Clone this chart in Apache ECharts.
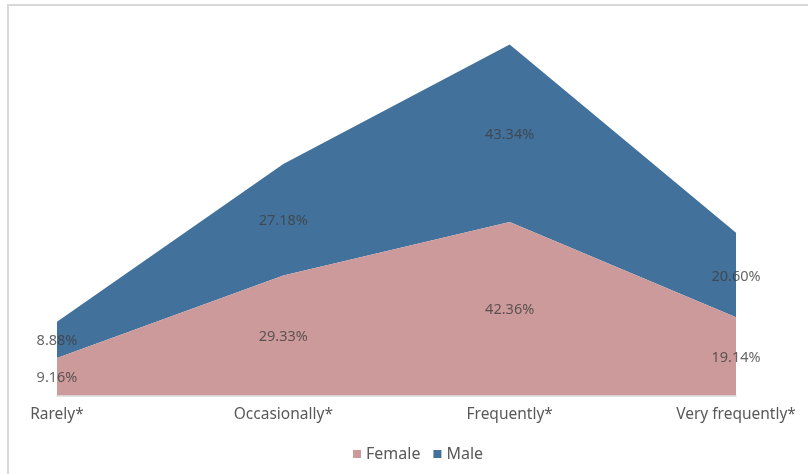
<!DOCTYPE html>
<html>
<head>
<meta charset="utf-8">
<script src="https://cdn.jsdelivr.net/npm/echarts@6/dist/echarts.min.js"></script>
<style>
  html, body { margin: 0; padding: 0; background: #fff; }
  #chart { width: 808px; height: 474px; }
</style>
</head>
<body>
<div id="chart"></div>
<script>
// Frequency categories along the x axis
const categories = ['Rarely*', 'Occasionally*', 'Frequently*', 'Very frequently*'];
// Percentages per group (stacked: Female at the bottom, Male on top)
const female = [9.16, 29.33, 42.36, 19.14];
const male = [8.88, 27.18, 43.34, 20.60];

const FEMALE_COLOR = '#cc9a9a';
const MALE_COLOR = '#42719c';
const FONT = '"Noto Sans", sans-serif';

// Label anchors sit in the middle of each stacked band
const femaleMid = female.map(v => v / 2);
const maleMid = male.map((v, i) => female[i] + v / 2);

const labelStyle = {
  show: true,
  position: 'inside',
  color: '#404040',
  fontSize: 14.5,
  fontFamily: FONT,
  offset: [0, 1.5]
};

const chart = echarts.init(document.getElementById('chart'), null, { renderer: 'canvas' });
chart.setOption({
  animation: false,
  backgroundColor: '#fff',
  graphic: [{
    type: 'polyline',
    shape: { points: [[8, 474], [8, 5], [808, 5]] },
    style: { stroke: '#d9d9d9', lineWidth: 2, fill: null },
    silent: true
  }],
  grid: { left: 57, right: 72, top: 27, bottom: 78.5 },
  legend: {
    top: 441,
    left: 348,
    itemWidth: 8,
    itemHeight: 8,
    itemGap: 13,
    icon: 'rect',
    textStyle: { color: '#595959', fontSize: 16, fontFamily: FONT },
    data: ['Female', 'Male']
  },
  xAxis: {
    type: 'category',
    data: categories,
    boundaryGap: false,
    axisLine: { show: true, lineStyle: { color: '#d9d9d9', width: 1.5 } },
    axisTick: { show: false },
    axisLabel: { color: '#595959', fontSize: 15.5, fontFamily: FONT, margin: 11 },
    splitLine: { show: false }
  },
  yAxis: {
    type: 'value',
    min: 0,
    max: 90,
    show: false
  },
  series: [
    {
      name: 'Female',
      type: 'line',
      stack: 'total',
      data: female,
      symbol: 'none',
      lineStyle: { width: 0 },
      itemStyle: { color: FEMALE_COLOR },
      areaStyle: { color: FEMALE_COLOR, opacity: 1 },
      z: 2
    },
    {
      name: 'Male',
      type: 'line',
      stack: 'total',
      data: male,
      symbol: 'none',
      lineStyle: { width: 0 },
      itemStyle: { color: MALE_COLOR },
      areaStyle: { color: MALE_COLOR, opacity: 1 },
      z: 1
    },
    {
      name: 'FemaleLabels',
      type: 'scatter',
      data: femaleMid.map((v, i) => ({ value: v, raw: female[i] })),
      symbolSize: 0,
      silent: true,
      label: Object.assign({}, labelStyle, {
        formatter: p => p.data.raw.toFixed(2) + '%'
      }),
      z: 5
    },
    {
      name: 'MaleLabels',
      type: 'scatter',
      data: maleMid.map((v, i) => ({ value: v, raw: male[i] })),
      symbolSize: 0,
      silent: true,
      label: Object.assign({}, labelStyle, {
        formatter: p => p.data.raw.toFixed(2) + '%'
      }),
      z: 5
    }
  ]
});
</script>
</body>
</html>
